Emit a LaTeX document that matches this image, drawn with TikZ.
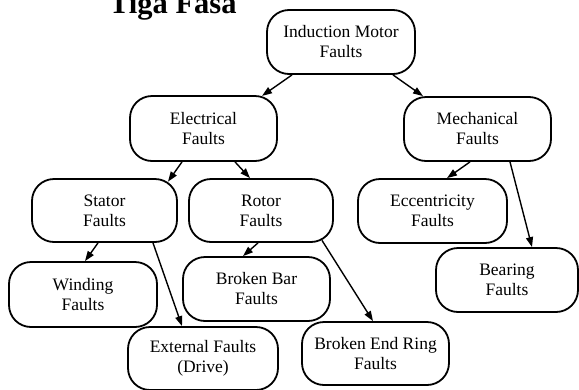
\documentclass[tikz,border=0pt]{standalone}
\usepackage{fontspec}
\setmainfont{Liberation Serif}
\usetikzlibrary{calc,arrows.meta}
\tikzset{
  fbox/.style={draw=black, line width=1.8pt, rounded corners=22pt, fill=white,
    minimum width=147pt, minimum height=64pt, inner sep=0pt, align=center,
    font=\fontsize{17.5}{20}\selectfont},
  conn/.style={draw=black, line width=1.4pt, -{Triangle[length=10pt,width=7pt]}},
  titletext/.style={font=\fontsize{30.5}{34}\selectfont\bfseries, inner sep=0pt, anchor=base west}
}
\begin{document}
\begin{tikzpicture}[x=1pt,y=-1pt]
\useasboundingbox (0,0) rectangle (579,389);
\node[titletext] (title) at (109,13) {Tiga Fasa};
\node[fbox, minimum width=148pt] (ind) at (341,42) {Induction Motor\\Faults};
\node[fbox, minimum height=65pt] (elec) at (203.5,128.5) {Electrical\\Faults};
\node[fbox] (mech) at (477.5,129) {Mechanical\\Faults};
\node[fbox, minimum width=145pt, minimum height=63pt] (stator) at (104.5,210.5) {Stator\\Faults};
\node[fbox, minimum width=144pt, minimum height=63pt] (rotor) at (261,210.5) {Rotor\\Faults};
\node[fbox, minimum width=149pt] (ecc) at (432.5,211) {Eccentricity\\Faults};
\node[fbox, minimum width=148pt, minimum height=65pt] (wind) at (83,294.5) {Winding\\Faults};
\node[fbox] (bbar) at (256.5,289) {Broken Bar\\Faults};
\node[fbox, minimum width=150pt, minimum height=63pt] (ext) at (203,358.5) {External Faults\\(Drive)};
\node[fbox, minimum width=142pt] (bear) at (507,280) {Bearing\\Faults};
\node[fbox, minimum height=63pt] (bend) at (375.5,353.5) {Broken End Ring\\Faults};

\draw[conn] ($(ind.south)+(-49,0)$) -- ($(elec.north)+(58.5,0.8)$);
\draw[conn] ($(ind.south)+(52,0)$) -- ($(mech.north)+(-54.5,0)$);
\draw[conn] ($(elec.south)+(-21.5,0)$) -- ($(stator.north)+(63.5,3.5)$);
\draw[conn] ($(elec.south)+(31.5,0)$) -- ($(rotor.north)+(-11,0)$);
\draw[conn] ($(mech.south)+(-7.5,0)$) -- ($(ecc.north)+(14.5,0)$);
\draw[conn] ($(mech.south)+(32.5,0)$) -- ($(bear.north)+(25,0)$);
\draw[conn] ($(stator.south)+(-6.5,0)$) -- ($(wind.north)+(2,0)$);
\draw[conn] ($(stator.south)+(48.5,0)$) -- ($(ext.north)+(-21,0)$);
\draw[conn] ($(rotor.south)+(-3,0)$) -- ($(bbar.north)+(-13.5,0)$);
\draw[conn] ($(rotor.south)+(61,-2.5)$) -- ($(bend.north)+(-2.5,0)$);
\end{tikzpicture}
\end{document}
